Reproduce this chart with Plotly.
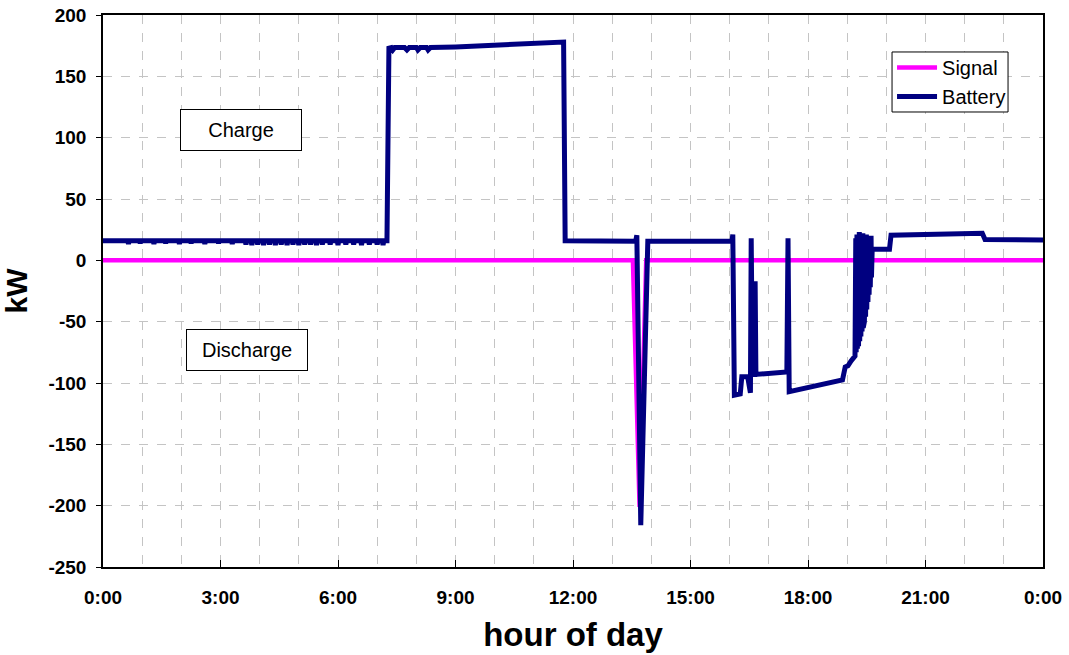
import plotly.graph_objects as go

# ---------------- data (hours of day, kW) ----------------
tick_hours = [0, 3, 6, 9, 12, 15, 18, 21, 24]
tick_labels = ["0:00", "3:00", "6:00", "9:00", "12:00", "15:00", "18:00", "21:00", "0:00"]
y_ticks = [-250, -200, -150, -100, -50, 0, 50, 100, 150, 200]
y_tick_labels = ["-250", "-200", "-150", "-100", "-50", "0", "50", "100", "150", "200"]

# Night baseline (before charging) with small periodic dips
base_level = 16.0
base_dip_hours = [0.65, 0.95, 1.3, 1.6, 1.95, 2.25, 2.6, 2.95, 3.3, 3.65, 3.8, 3.95, 4.1,
                  4.25, 4.4, 4.55, 4.7, 4.85, 5.0, 5.15, 5.3, 5.45, 5.6, 5.8, 6.0, 6.2,
                  6.4, 6.6, 6.8, 7.0, 7.15]
base_dip_values = [13.5, 14, 13.5, 14, 13.5, 14, 13.5, 14, 13.5, 13, 12.5, 13, 12.5,
                   13, 12.5, 13, 12.5, 13, 12.5, 13, 13, 12.5, 13, 13, 12.5, 13,
                   13, 12.5, 13, 13, 12.5]

# Rest of the day battery power
battery_hours = [7.25, 7.30, 7.36, 7.40, 7.45, 7.70, 7.76, 7.82, 8.00, 8.04, 8.10, 8.26, 8.30, 8.36,
                 9.0, 10.0, 11.0, 11.76, 11.80, 13.60, 13.63, 13.73, 13.91,
                 16.06, 16.08, 16.12, 16.27, 16.31, 16.46, 16.50, 16.53, 16.55, 16.58, 16.64,
                 16.65, 16.67, 17.46, 17.49, 17.52, 18.88, 18.95, 19.02, 19.10, 19.20,
                 19.22, 19.23, 19.25, 19.26, 19.28, 19.29, 19.31, 19.32, 19.34, 19.35,
                 19.37, 19.38, 19.40, 19.41, 19.43, 19.44, 19.46, 19.47, 19.49, 19.50,
                 19.52, 19.53, 19.55, 19.56, 19.58, 19.59, 19.61, 19.62, 19.64, 19.66,
                 20.08, 20.12, 21.0, 22.0, 22.45, 22.52, 24.0]
battery_values = [16, 173, 173.5, 171.5, 173.5, 173.5, 171.5, 173.5, 173.5, 171.5, 173.5, 173.5, 171.5, 173.5,
                  174, 175.5, 176.5, 178, 16, 15.5, 20.5, -216, 15.5,
                  15.5, 21, -110, -109, -95, -95, -108, -108, 18, -93, -93,
                  -17, -93, -91, 18, -107, -97.5, -87, -86, -82, -78,
                  18, -75, 21, -72, 16, -70, 23, -66, 15, -62,
                  19, -58, 22, -55, 14, -50, 18, -46, 21, -40,
                  13, -34, 18, -28, 12, -22, 20, -14, 10, 9,
                  9, 20.5, 21, 21.5, 22, 17, 16.5]

# Control signal
signal_hours = [0.0, 13.53, 13.70, 13.87, 24.0]
signal_values = [0, 0, -201, 0, 0]

# ---------------- build the battery path ----------------
bx = [0.0]
by = [base_level]
for h, v in zip(base_dip_hours, base_dip_values):
    bx += [h - 0.02, h, h + 0.02]
    by += [base_level, v, base_level]
bx += battery_hours
by += battery_values

fig = go.Figure()
fig.add_trace(go.Scatter(x=signal_hours, y=signal_values, mode="lines", name="Signal",
                         line=dict(color="#FF00FF", width=4.5)))
fig.add_trace(go.Scatter(x=bx, y=by, mode="lines", name="Battery",
                         line=dict(color="#000080", width=5)))

font_family = "Liberation Sans, Arial, sans-serif"
grid_col = "#C4C4C4"

fig.update_layout(
    width=1069, height=655,
    margin=dict(l=103, r=26, t=15, b=88),
    paper_bgcolor="white", plot_bgcolor="white",
    font=dict(family=font_family, color="black"),
    showlegend=True,
    legend=dict(x=0.8394, y=0.940, xanchor="left", yanchor="top",
                bgcolor="rgba(0,0,0,0)", borderwidth=0, itemwidth=40,
                font=dict(size=20, family=font_family), tracegroupgap=0),
    shapes=[dict(type="rect", xref="paper", yref="paper",
                 x0=0.8394, x1=0.9628, y0=0.8243, y1=0.933,
                 line=dict(color="black", width=1), fillcolor="white", layer="above")],
    xaxis=dict(range=[0, 24], tickvals=tick_hours, ticktext=tick_labels,
               tickfont=dict(size=19, weight="bold"), automargin=False,
               ticklabeloverflow="allow",
               showline=True, linecolor="black", linewidth=1.5, mirror=True,
               ticks="inside", ticklen=7, tickcolor="black", ticklabelstandoff=12,
               showgrid=True, gridcolor=grid_col, griddash="dash", gridwidth=1,
               minor=dict(dtick=1, tick0=0, showgrid=True, gridcolor=grid_col,
                          griddash="dash", gridwidth=1, ticks=""),
               zeroline=False,
               title=dict(text="hour of day", font=dict(size=33, weight="bold"), standoff=16)),
    yaxis=dict(range=[-250, 200], tickvals=y_ticks, ticktext=y_tick_labels,
               tickfont=dict(size=19, weight="bold"), automargin=False,
               ticklabeloverflow="allow",
               showline=True, linecolor="black", linewidth=1.5, mirror=True,
               ticks="outside", ticklen=5, tickcolor="black", ticklabelstandoff=6,
               showgrid=True, gridcolor=grid_col, griddash="dash", gridwidth=1,
               zeroline=False,
               title=dict(text="kW", font=dict(size=30, weight="bold"), standoff=14)),
    annotations=[
        dict(x=3.52, y=106, xref="x", yref="y", text="Charge", showarrow=False,
             font=dict(size=20, family=font_family), bgcolor="white",
             bordercolor="black", borderwidth=1, width=118, height=38),
        dict(x=3.68, y=-73, xref="x", yref="y", text="Discharge", showarrow=False,
             font=dict(size=20, family=font_family), bgcolor="white",
             bordercolor="black", borderwidth=1, width=118, height=38),
    ],
)

# remove the browser's default 8px body margin so the figure fills the window exactly
fig.write_html("out.html", config={"displayModeBar": False},
               post_script="document.body.style.margin='0';")
